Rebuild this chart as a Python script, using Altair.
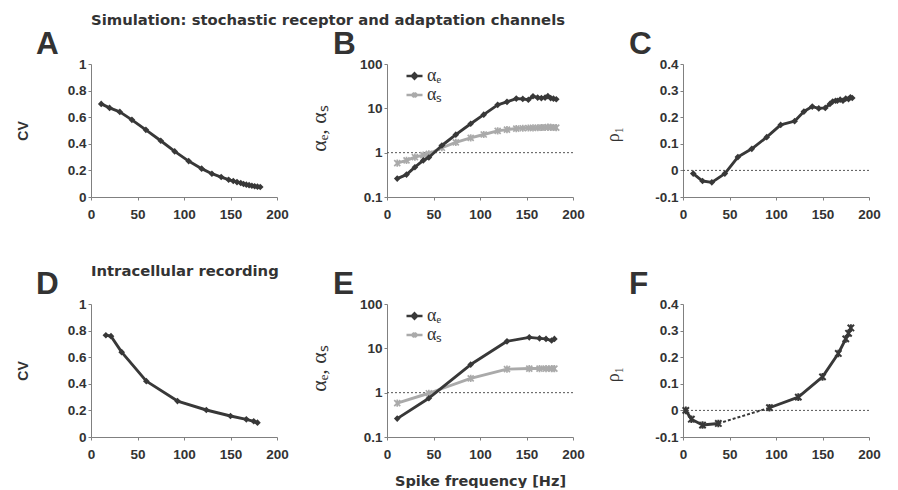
import altair as alt
import pandas as pd

# ---------------- data ----------------
A_x  = [11, 20, 31, 44, 59, 75, 90, 105, 119, 130, 140, 148, 153, 157, 161, 164, 167, 170, 173, 176, 179, 182]
A_cv = [0.70, 0.67, 0.64, 0.58, 0.505, 0.423, 0.343, 0.27, 0.213, 0.175, 0.15, 0.13, 0.12, 0.112,
        0.105, 0.098, 0.093, 0.089, 0.085, 0.081, 0.078, 0.075]

B_x  = [11, 21, 30, 39, 45, 59, 74, 90, 104, 119, 129, 139, 146, 152, 157, 162, 166, 170, 173, 176, 179, 182]
B_ae = [0.26, 0.32, 0.47, 0.67, 0.78, 1.45, 2.55, 4.5, 7.2, 12.0, 14.0, 16.6, 16.3, 15.6, 18.7, 17.5,
        17.0, 17.5, 18.8, 17.0, 16.5, 16.0]
B_as = [0.58, 0.67, 0.79, 0.88, 0.94, 1.29, 1.70, 2.16, 2.57, 3.10, 3.30, 3.50, 3.55, 3.60, 3.62, 3.65,
        3.70, 3.70, 3.75, 3.72, 3.70, 3.68]

C_x   = [11, 21, 31, 45, 59, 74, 90, 105, 120, 130, 139, 146, 153, 158, 161, 164, 166, 169, 172, 175, 178, 180, 182]
C_rho = [-0.012, -0.04, -0.045, -0.012, 0.05, 0.081, 0.125, 0.171, 0.185, 0.221, 0.24, 0.233, 0.235,
         0.25, 0.259, 0.262, 0.262, 0.266, 0.262, 0.27, 0.268, 0.275, 0.272]

D_x  = [16, 21.5, 33, 59.5, 93, 124, 150, 167, 175, 179]
D_cv = [0.765, 0.758, 0.638, 0.42, 0.27, 0.203, 0.158, 0.133, 0.118, 0.108]

E_x  = [11, 45, 90, 129, 153, 164, 171, 177, 180]
E_ae = [0.26, 0.75, 4.3, 14.4, 17.7, 16.8, 16.3, 15.0, 16.3]
E_as = [0.58, 0.97, 2.1, 3.4, 3.5, 3.5, 3.5, 3.5, 3.5]

F_x   = [3, 9, 21, 38, 93, 124, 150, 167, 175, 178, 180.5]
F_rho = [0.0, -0.033, -0.055, -0.049, 0.01, 0.05, 0.126, 0.214, 0.269, 0.29, 0.31]
F_seg = [1, 1, 1, 1, 2, 2, 2, 2, 2, 2, 2]   # the gap between segment 1 and 2 is drawn dashed

X_TICKS = [0, 50, 100, 150, 200]
CV_TICKS = [0, 0.2, 0.4, 0.6, 0.8, 1]
ALPHA_TICKS = [0.1, 1, 10, 100]
RHO_TICKS = [-0.1, 0, 0.1, 0.2, 0.3, 0.4]

PANEL_LETTERS = ["A", "B", "C", "D", "E", "F"]
ROW_TITLES = ["Simulation: stochastic receptor and adaptation channels", "Intracellular recording"]
X_TITLE = "Spike frequency [Hz]"
AE, AS = "αₑ", "αₛ"
ALPHA_TITLE = "αₑ, αₛ"
RHO_TITLE = "ρ₁"
CV_TITLE = "CV"

# ---------------- styles ----------------
DARK = "#383838"
GRAY = "#aaaaaa"
AXC = "#808080"
TXT = "#333333"
SANS = "Liberation Sans"
TFONT = "DejaVu Sans"
SERIF = "Liberation Serif"
W, H = 186, 133

STAR = "M-1,-1L1,1M-1,1L1,-1M0,-1.2L0,1.2"
LEG_E = "M-1,0L1,0M0,-0.32L0.32,0L0,0.32L-0.32,0Z"
LEG_S = "M-1,0L1,0M-0.26,-0.26L0.26,0.26M-0.26,0.26L0.26,-0.26M0,-0.32L0,0.32"

LINE = dict(strokeWidth=2.9, strokeJoin="round", strokeCap="round")


def xenc(title=None):
    if title is None:
        ax = alt.Axis(values=X_TICKS, title=None)
    else:
        ax = alt.Axis(values=X_TICKS, title=title, titleFont=TFONT, titleFontSize=14.5,
                      titleFontWeight="bold", titleColor=TXT, titleY=48, titleBaseline="alphabetic")
    return alt.X("x:Q", scale=alt.Scale(domain=[0, 200], nice=False, zero=False), axis=ax)


def yaxis(values, title, font, weight, size, tx, ty=None):
    kw = dict(values=values, labelExpr="'' + datum.value", title=title, titleFont=font,
              titleFontWeight=weight, titleFontSize=size, titleColor=TXT, titleX=tx,
              titleBaseline="middle", titleAlign="center")
    if ty is not None:
        kw["titleY"] = ty
    return alt.Axis(**kw)


def text_layer(text, x, y, size, font, baseline="alphabetic"):
    return alt.Chart(pd.DataFrame({"t": [text]})).mark_text(
        align="left", baseline=baseline, font=font, fontSize=size, fontWeight="bold", color=TXT
    ).encode(x=alt.value(x), y=alt.value(y), text="t:N")


def letter(ch, dx=-54):
    return text_layer(ch, dx, -10, 31.5, SANS)


def ref_rule(val, yenc):
    return alt.Chart(pd.DataFrame({"y": [val]})).mark_rule(
        color="#555555", strokeWidth=1, strokeDash=[2, 2]
    ).encode(y=yenc)


LEG = alt.Legend(title=None, orient="none", legendX=18, legendY=2.5, symbolSize=256,
                 symbolStrokeWidth=2.6, labelFont=SERIF, labelFontSize=18, labelColor=TXT,
                 labelOffset=3, padding=0, rowPadding=0)


def alpha_panel(xs, ae, a_s, xe, ch):
    ye = alt.Y("y:Q", scale=alt.Scale(type="log", domain=[0.1, 100], nice=False),
               axis=yaxis(ALPHA_TICKS, ALPHA_TITLE, SERIF, "normal", 22, -69, 64))
    de = pd.DataFrame({"x": xs, "y": ae})
    ds = pd.DataFrame({"x": xs, "y": a_s})
    legdf = pd.DataFrame({"x": [xs[0], xs[0]], "y": [ae[0], a_s[0]], "s": [AE, AS]})
    cscale = alt.Scale(domain=[AE, AS], range=[DARK, GRAY])
    leg = alt.Chart(legdf).mark_point(filled=True, opacity=1).encode(
        x=xe, y=ye,
        fill=alt.Fill("s:N", scale=cscale, legend=LEG),
        stroke=alt.Stroke("s:N", scale=cscale, legend=LEG),
        shape=alt.Shape("s:N", scale=alt.Scale(domain=[AE, AS], range=[LEG_E, LEG_S]), legend=LEG),
    ).transform_filter("false")
    return alt.layer(
        ref_rule(1, ye),
        alt.Chart(ds).mark_line(color=GRAY, **LINE).encode(x=xe, y=ye),
        alt.Chart(ds).mark_point(shape=STAR, filled=False, color=GRAY, size=36, strokeWidth=1.7,
                                 opacity=1).encode(x=xe, y=ye),
        alt.Chart(de).mark_line(color=DARK, **LINE).encode(x=xe, y=ye),
        alt.Chart(de).mark_point(shape="diamond", filled=True, color=DARK, size=44,
                                 opacity=1).encode(x=xe, y=ye),
        leg,
        letter(ch),
    ).resolve_scale(fill="shared", stroke="shared", shape="shared").properties(width=W, height=H)


# ---- A ----
xA = xenc()
yA = alt.Y("y:Q", scale=alt.Scale(domain=[0, 1], nice=False),
           axis=yaxis(CV_TICKS, CV_TITLE, SANS, "bold", 14, -68))
dfA = pd.DataFrame({"x": A_x, "y": A_cv})
pA = alt.layer(
    alt.Chart(dfA).mark_line(color=DARK, **LINE).encode(x=xA, y=yA),
    alt.Chart(dfA).mark_point(shape="diamond", filled=True, color=DARK, size=44, opacity=1).encode(x=xA, y=yA),
    text_layer(ROW_TITLES[0], 0, -39, 14.8, TFONT),
    letter(PANEL_LETTERS[0], -55),
).properties(width=W, height=H)

# ---- B ----
pB = alpha_panel(B_x, B_ae, B_as, xenc(), PANEL_LETTERS[1])

# ---- C ----
xC = xenc()
yC = alt.Y("y:Q", scale=alt.Scale(domain=[-0.1, 0.4], nice=False),
           axis=yaxis(RHO_TICKS, RHO_TITLE, SERIF, "normal", 18, -70, 70))
dfC = pd.DataFrame({"x": C_x, "y": C_rho})
pC = alt.layer(
    ref_rule(0, yC),
    alt.Chart(dfC).mark_line(color=DARK, **LINE).encode(x=xC, y=yC),
    alt.Chart(dfC).mark_point(shape="diamond", filled=True, color=DARK, size=44, opacity=1).encode(x=xC, y=yC),
    letter(PANEL_LETTERS[2]),
).properties(width=W, height=H)

# ---- D ----
xD = xenc()
yD = alt.Y("y:Q", scale=alt.Scale(domain=[0, 1], nice=False),
           axis=yaxis(CV_TICKS, CV_TITLE, SANS, "bold", 14, -68))
dfD = pd.DataFrame({"x": D_x, "y": D_cv})
pD = alt.layer(
    alt.Chart(dfD).mark_line(color=DARK, **LINE).encode(x=xD, y=yD),
    alt.Chart(dfD).mark_point(shape="diamond", filled=True, color=DARK, size=44, opacity=1).encode(x=xD, y=yD),
    text_layer(ROW_TITLES[1], 0, -28, 14.8, TFONT),
    letter(PANEL_LETTERS[3], -55),
).properties(width=W, height=H)

# ---- E ----
pE = alpha_panel(E_x, E_ae, E_as, xenc(X_TITLE), PANEL_LETTERS[4])

# ---- F ----
xF = xenc()
yF = alt.Y("y:Q", scale=alt.Scale(domain=[-0.1, 0.4], nice=False),
           axis=yaxis(RHO_TICKS, RHO_TITLE, SERIF, "normal", 18, -70, 70))
dfF = pd.DataFrame({"x": F_x, "y": F_rho, "seg": F_seg})
dfFgap = dfF.iloc[3:5]
pF = alt.layer(
    ref_rule(0, yF),
    alt.Chart(dfFgap).mark_line(color=DARK, strokeWidth=2, strokeDash=[3, 2]).encode(x=xF, y=yF),
    alt.Chart(dfF).mark_line(color=DARK, **LINE).encode(x=xF, y=yF, detail="seg:N"),
    alt.Chart(dfF).mark_point(shape=STAR, filled=False, color=DARK, size=40, strokeWidth=2,
                              opacity=1).encode(x=xF, y=yF),
    letter(PANEL_LETTERS[5]),
).properties(width=W, height=H)

chart = alt.concat(pA, pB, pC, pD, pE, pF, columns=3).resolve_scale(
    fill="independent", stroke="independent", shape="independent"
).resolve_legend(
    fill="independent", stroke="independent", shape="independent"
).properties(
    spacing={"row": 107, "column": 110},
    bounds="flush",
    padding={"left": 8, "top": 5, "right": 4, "bottom": 0},
).configure_view(stroke=None).configure_axis(
    domainColor=AXC, tickColor=AXC, domainWidth=1, tickWidth=1, tickSize=3, grid=False,
    labelFont=SANS, labelFontSize=13.5, labelFontWeight="bold", labelColor=TXT, labelFlush=False,
).configure_axisX(labelPadding=7).configure_axisY(labelPadding=2)

chart.save("out.html", embed_options={"renderer": "svg", "actions": False})
